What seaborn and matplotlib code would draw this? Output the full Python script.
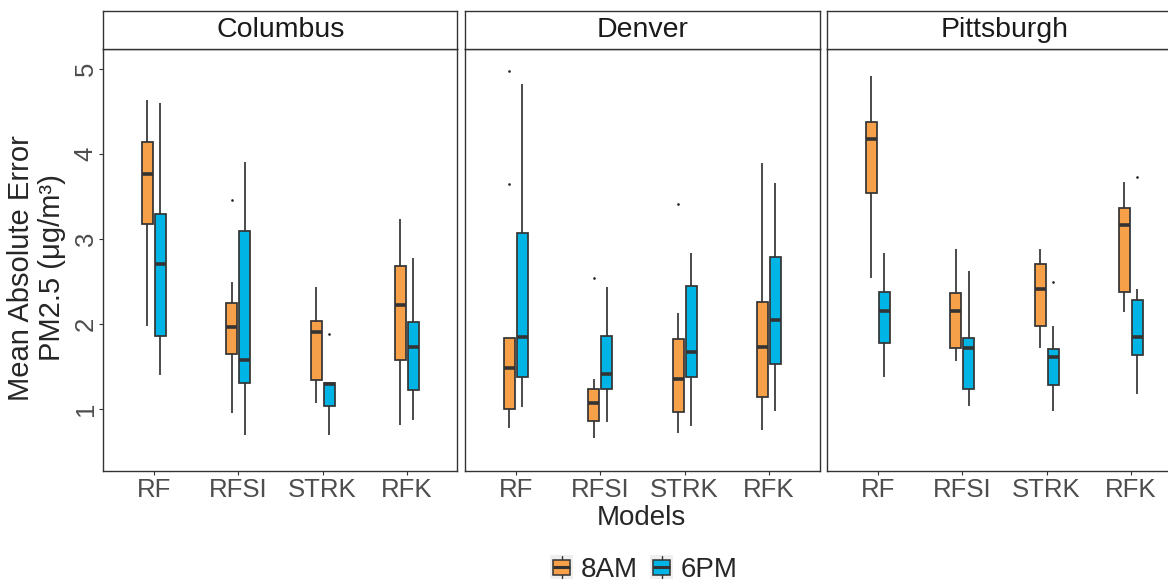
import numpy as np
import pandas as pd
import seaborn as sns
import matplotlib.pyplot as plt
from matplotlib.patches import Patch, Rectangle
from matplotlib.lines import Line2D
from matplotlib.legend_handler import HandlerBase

sns.set_theme(style="white")
plt.rcParams['font.family'] = ['Liberation Sans', 'DejaVu Sans']

models = ["RF", "RFSI", "STRK", "RFK"]
cities = ["Columbus", "Denver", "Pittsburgh"]
times = ["8AM", "6PM"]
colors = {"8AM": "#F6A04A", "6PM": "#00B5E6"}

# five-number summary per model: whisker low, Q1, median, Q3, whisker high
columbus_8am = [[1.97, 3.18, 3.76, 4.14, 4.63],
                [0.95, 1.65, 1.96, 2.25, 2.49],
                [1.07, 1.34, 1.90, 2.04, 2.44],
                [0.81, 1.58, 2.22, 2.68, 3.23]]
columbus_6pm = [[1.40, 1.86, 2.71, 3.29, 4.60],
                [0.69, 1.30, 1.58, 3.09, 3.90],
                [0.69, 1.035, 1.29, 1.31, 1.31],
                [0.87, 1.22, 1.73, 2.02, 2.78]]
denver_8am = [[0.78, 1.00, 1.48, 1.835, 1.835],
              [0.655, 0.855, 1.07, 1.24, 1.35],
              [0.72, 0.96, 1.35, 1.82, 2.13],
              [0.75, 1.145, 1.73, 2.26, 3.89]]
denver_6pm = [[1.02, 1.38, 1.85, 3.07, 4.82],
              [0.85, 1.23, 1.41, 1.86, 2.44],
              [0.80, 1.37, 1.67, 2.45, 2.83],
              [0.98, 1.53, 2.05, 2.79, 3.66]]
pittsburgh_8am = [[2.545, 3.54, 4.18, 4.38, 4.92],
                  [1.56, 1.72, 2.15, 2.365, 2.88],
                  [1.72, 1.98, 2.41, 2.71, 2.88],
                  [2.14, 2.37, 3.16, 3.36, 3.67]]
pittsburgh_6pm = [[1.37, 1.77, 2.15, 2.38, 2.83],
                  [1.035, 1.235, 1.72, 1.84, 2.62],
                  [0.97, 1.285, 1.61, 1.71, 1.98],
                  [1.18, 1.63, 1.85, 2.28, 2.41]]

# outliers: (city, model, time, value)
outliers = [("Columbus", "RFSI", "8AM", 3.46),
            ("Columbus", "STRK", "6PM", 1.88),
            ("Denver", "RF", "8AM", 4.98),
            ("Denver", "RF", "8AM", 3.65),
            ("Denver", "RFSI", "8AM", 2.54),
            ("Denver", "STRK", "8AM", 3.41),
            ("Pittsburgh", "STRK", "6PM", 2.49),
            ("Pittsburgh", "RFK", "6PM", 3.73)]

summaries = {("Columbus", "8AM"): columbus_8am, ("Columbus", "6PM"): columbus_6pm,
             ("Denver", "8AM"): denver_8am, ("Denver", "6PM"): denver_6pm,
             ("Pittsburgh", "8AM"): pittsburgh_8am, ("Pittsburgh", "6PM"): pittsburgh_6pm}

rows = []
for (city, t), stats in summaries.items():
    for m, vals in zip(models, stats):
        for v in vals:
            rows.append({"city": city, "model": m, "time": t, "mae": v})
df = pd.DataFrame(rows)

out = pd.DataFrame(outliers, columns=["city", "model", "time", "mae"])
out["rank"] = out.groupby(["city", "model", "time"]).cumcount()


class BoxKey(HandlerBase):
    # ggplot-like boxplot legend key
    def create_artists(self, legend, orig_handle, xdescent, ydescent, width, height, fontsize, trans):
        x0, y0 = -xdescent, -ydescent
        cx = x0 + width / 2
        bg = Rectangle((x0, y0), width, height, facecolor="#EFEFEF", edgecolor="none", transform=trans)
        wh = Line2D([cx, cx], [y0 + 0.04 * height, y0 + 0.96 * height], color="#333333", lw=1.0, transform=trans)
        bx = Rectangle((cx - 0.38 * width, y0 + 0.2 * height), 0.76 * width, 0.6 * height,
                       facecolor=orig_handle.get_facecolor(), edgecolor="#333333", lw=1.1, transform=trans)
        md = Line2D([cx - 0.38 * width, cx + 0.38 * width], [y0 + 0.5 * height] * 2,
                    color="#333333", lw=2.2, solid_capstyle="butt", transform=trans)
        return [bg, wh, bx, md]


W, H = 1168, 583
fig = plt.figure(figsize=(W / 100, H / 100), dpi=100)

panel_left = [103.3, 465.3, 827.3]
panel_w = 354.2
panel_top, panel_bot = 49.3, 471.0
strip_top = 11.0

for i, city in enumerate(cities):
    l = panel_left[i] / W
    ax = fig.add_axes([l, 1 - panel_bot / H, panel_w / W, (panel_bot - panel_top) / H])
    sub = df[df["city"] == city]
    sns.boxplot(data=sub, x="model", y="mae", hue="time", order=models, hue_order=times,
                palette=colors, saturation=1, width=0.308, gap=0.156, whis=(0, 100),
                linecolor="#333333", linewidth=1.25, showcaps=False,
                medianprops={"linewidth": 2.6}, legend=False, ax=ax)
    sub_out = out[out["city"] == city]
    for r in sorted(sub_out["rank"].unique()):
        pts = sub_out[sub_out["rank"] == r]
        sns.pointplot(data=pts, x="model", y="mae", hue="time", order=models, hue_order=times,
                      palette={t: "#222222" for t in times}, dodge=0.154, linestyle="none",
                      marker="o", markersize=1.9, markeredgewidth=0, errorbar=None,
                      legend=False, ax=ax)
    ax.set_xlim(-0.6, 3.6)
    ax.set_ylim(0.27, 5.23)
    ax.set_yticks([1, 2, 3, 4, 5])
    ax.set_xlabel("")
    ax.set_ylabel("")
    for s in ax.spines.values():
        s.set_color("#333333")
        s.set_linewidth(1.0)
    ax.tick_params(axis="x", bottom=True, length=3, width=0.8, color="#333333",
                   labelsize=18.5, labelcolor="#4D4D4D", pad=2)
    if i == 0:
        ax.tick_params(axis="y", left=True, length=3, width=0.8, color="#333333",
                       labelsize=18.5, labelcolor="#4D4D4D", pad=1, labelrotation=90)
        for lbl in ax.get_yticklabels():
            lbl.set_va("center")
    else:
        ax.tick_params(axis="y", left=False, labelleft=False)

    sax = fig.add_axes([l, 1 - panel_top / H, panel_w / W, (panel_top - strip_top) / H])
    sax.set_xticks([])
    sax.set_yticks([])
    for s in sax.spines.values():
        s.set_color("#333333")
        s.set_linewidth(1.0)
    sax.text(0.5, 0.5, city, ha="center", va="center", fontsize=20.5, color="#1A1A1A",
             transform=sax.transAxes)

fig.text(36.5 / W, 1 - 268 / H, "Mean Absolute Error\nPM2.5 (μg/m³)", rotation=90,
         ha="center", va="center", fontsize=21, linespacing=1.1, multialignment="center")
fig.text(641.7 / W, 1 - 518 / H, "Models", ha="center", va="center", fontsize=20)

handles = [Patch(facecolor=colors[t]) for t in times]
fig.legend(handles, times, loc="center", bbox_to_anchor=(644 / W, 1 - 569 / H), ncol=2,
           frameon=False, fontsize=20, handlelength=0.83, handleheight=0.97,
           handletextpad=0.28, columnspacing=0.44, borderaxespad=0, borderpad=0,
           handler_map={Patch: BoxKey()})

fig.savefig("out.png", dpi=100)
